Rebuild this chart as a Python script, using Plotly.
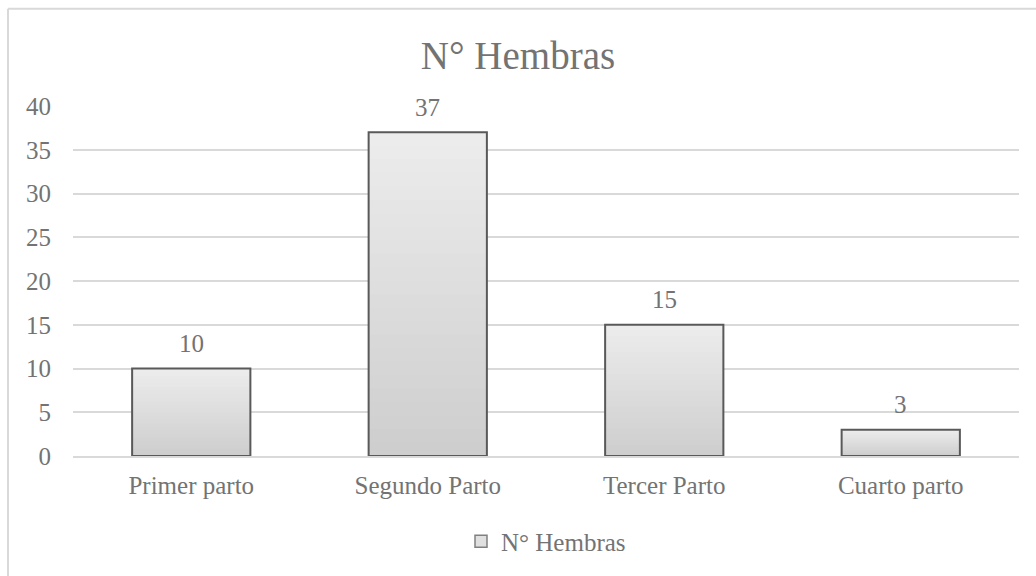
import plotly.graph_objects as go

categories = ["Primer parto", "Segundo Parto", "Tercer Parto", "Cuarto parto"]
values = [10, 37, 15, 3]
series_name = "N° Hembras"
y_ticks = [0, 5, 10, 15, 20, 25, 30, 35, 40]

FONT = "Liberation Serif, Times New Roman, serif"
TXT = "#737373"

fig = go.Figure()

# vertical gradient built from stacked overlay layers (light top -> darker bottom)
N = 24
top_rgb = (236, 236, 236)
bot_rgb = (206, 206, 206)
for k in range(N):
    f = k / N
    t = k / (N - 1)
    c = tuple(round(top_rgb[i] + (bot_rgb[i] - top_rgb[i]) * t) for i in range(3))
    fig.add_trace(go.Bar(
        x=categories,
        y=[v * (1 - f) for v in values],
        marker=dict(color="rgb(%d,%d,%d)" % c, line=dict(width=0)),
        name=series_name,
        showlegend=False,
        hoverinfo="skip",
    ))

# outline
fig.add_trace(go.Bar(
    x=categories,
    y=values,
    name=series_name,
    marker=dict(color="rgba(0,0,0,0)", line=dict(color="#595959", width=2)),
    showlegend=False,
))
# legend-only entry
fig.add_trace(go.Bar(
    x=[None],
    y=[None],
    name=series_name,
    marker=dict(color="#e0e0e0", line=dict(color="#808080", width=1.5)),
    showlegend=True,
))

# data labels
annotations = [
    dict(
        x=c, y=v, xref="x", yref="y", text=str(v), showarrow=False,
        yanchor="middle", yshift=25,
        font=dict(family=FONT, size=25, color=TXT),
    )
    for c, v in zip(categories, values)
]

fig.update_layout(
    width=1036,
    height=576,
    barmode="overlay",
    bargap=0.5,
    paper_bgcolor="white",
    plot_bgcolor="white",
    margin=dict(l=73, r=17, t=106, b=117),
    title=dict(
        text="N° Hembras",
        x=0.5,
        xanchor="center",
        y=1 - 55 / 576,
        yanchor="middle",
        font=dict(family=FONT, size=39, color=TXT),
    ),
    font=dict(family=FONT, size=25, color=TXT),
    showlegend=True,
    legend=dict(
        orientation="h",
        x=0.5,
        xanchor="center",
        y=-0.244,
        yanchor="middle",
        font=dict(family=FONT, size=25, color=TXT),
        itemwidth=30,
    ),
    xaxis=dict(
        showgrid=False,
        showline=True,
        linecolor="#d9d9d9",
        linewidth=1.5,
        ticks="",
        tickfont=dict(family=FONT, size=25, color=TXT),
        ticklabelstandoff=6,
    ),
    yaxis=dict(
        range=[0, 40],
        tickvals=y_ticks,
        showgrid=True,
        gridcolor="#d9d9d9",
        gridwidth=1.5,
        zeroline=False,
        showline=False,
        ticks="",
        tickfont=dict(family=FONT, size=25, color=TXT),
        ticklabelstandoff=21,
    ),
    annotations=annotations,
    shapes=[
        dict(type="line", xref="paper", yref="paper",
             x0=(8 - 73) / 946, x1=(1040 - 73) / 946,
             y0=(459 - 8) / 353, y1=(459 - 8) / 353,
             line=dict(color="#d9d9d9", width=2), layer="below"),
        dict(type="line", xref="paper", yref="paper",
             x0=(8 - 73) / 946, x1=(8 - 73) / 946,
             y0=(459 - 8) / 353, y1=(459 - 590) / 353,
             line=dict(color="#d9d9d9", width=2), layer="below"),
    ],
)

fig.write_html(
    "out.html",
    config={"displayModeBar": False},
    post_script="document.body.style.margin='0';document.body.style.overflow='hidden';",
)
